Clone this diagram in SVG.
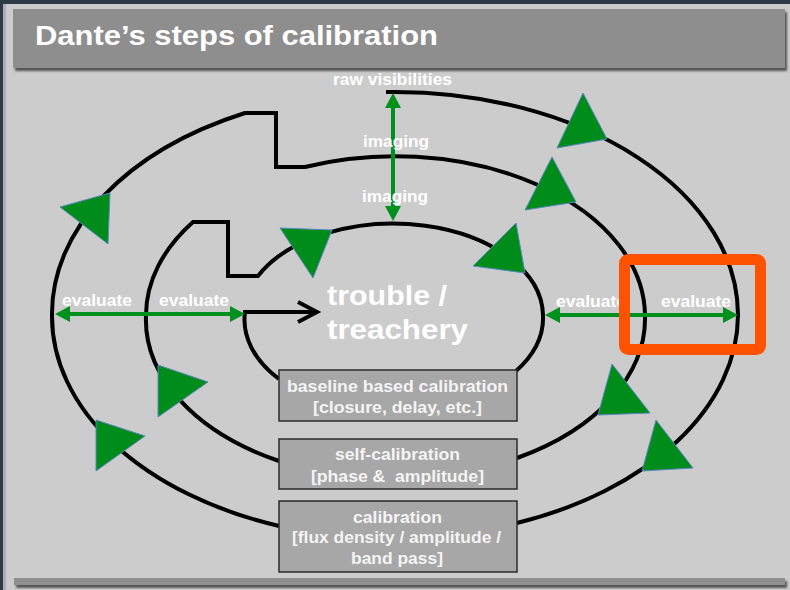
<svg xmlns="http://www.w3.org/2000/svg" width="790" height="590" viewBox="0 0 790 590">
<defs>
<style>
.curve{fill:none;stroke:#000;stroke-width:4;stroke-linejoin:miter}
.garrow{fill:none;stroke:#00901e;stroke-width:4}
.tri{fill:#008c1a;stroke:#5a86bf;stroke-width:1}
.lbl{font-family:"Liberation Sans",Arial,sans-serif;font-weight:bold;font-size:16px;fill:#fff;text-anchor:middle}
.box{fill:#a7a7a7;stroke:#2b2b2b;stroke-width:1.5}
.btxt{font-family:"Liberation Sans",Arial,sans-serif;font-weight:bold;font-size:16px;fill:#f4f4f4;text-anchor:middle}
.big{font-family:"Liberation Sans",Arial,sans-serif;font-weight:bold;font-size:27px;fill:#fff}
</style>
<marker id="gh" viewBox="0 0 15 16" refX="11" refY="8" markerWidth="15" markerHeight="16" markerUnits="userSpaceOnUse" orient="auto-start-reverse">
<path d="M0,0 L15,8 L0,16 z" fill="#00901e"/>
</marker>
<filter id="sh" x="-5%" y="-50%" width="110%" height="200%">
<feDropShadow dx="2" dy="3" stdDeviation="1.2" flood-color="#4a4a4a" flood-opacity="0.9"/>
</filter>
</defs>

<rect x="0" y="0" width="790" height="590" fill="#2e3a46"/>
<rect x="3" y="4" width="787" height="586" fill="#a9b1b9"/>
<rect x="6" y="4" width="784" height="586" fill="#cccccc"/>

<g id="title">
<rect x="13" y="9" width="772" height="59" fill="#8e8e8e" filter="url(#sh)"/>
<text class="big" x="35" y="45" textLength="403" lengthAdjust="spacingAndGlyphs">Dante’s steps of calibration</text>
</g>
<rect x="14" y="578" width="771" height="7" fill="#8f8f8f" filter="url(#sh)"/>

<g id="connectors">
<!-- outer ring -->
<path class="curve" d="M386,92 L395,92 A343,223 0 0 1 738,315 A343,223 0 0 1 517,523"/>
<path class="curve" d="M279,526 A343,223 0 0 1 52,315 A343,223 0 0 1 245,113 L276,113 L276,167 L305,167 A250,160 0 0 1 645,315 A250,160 0 0 1 517,458"/>
<!-- middle ring -->
<path class="curve" d="M279,461 A250,160 0 0 1 146,315 A250,160 0 0 1 193,222 L228,222 L228,276 L258,276 A150,93 0 0 1 543,315 A150,93 0 0 1 516,371"/>
<!-- inner ring + arrow to centre -->
<path class="curve" d="M279,379 A150,93 0 0 1 245,312 L316,312"/>
<polyline class="curve" points="298,302 317,312 298,322" stroke-width="3.5"/>

<!-- green measurement arrows -->
<line class="garrow" x1="393" y1="97" x2="393" y2="217" marker-start="url(#gh)" marker-end="url(#gh)"/>
<line class="garrow" x1="59" y1="314" x2="241" y2="314" marker-start="url(#gh)" marker-end="url(#gh)"/>
<line class="garrow" x1="549" y1="315" x2="734" y2="315" marker-start="url(#gh)" marker-end="url(#gh)"/>

<!-- direction triangles -->
<polygon class="tri" points="60,207 110,193 108,244"/>
<polygon class="tri" points="96,420 145,436 96,471"/>
<polygon class="tri" points="158,365 208,382 158,417"/>
<polygon class="tri" points="280,228 332,230 313,278"/>
<polygon class="tri" points="583,93 607,139 557,148"/>
<polygon class="tri" points="552,157 576,202 525,210"/>
<polygon class="tri" points="516,223 525,273 473,266"/>
<polygon class="tri" points="612,364 650,413 598,415"/>
<polygon class="tri" points="656,420 693,468 642,471"/>
</g>

<g id="labels">
<text class="lbl" x="392.5" y="85" textLength="119" lengthAdjust="spacingAndGlyphs">raw visibilities</text>
<text class="lbl" x="396" y="147" textLength="66" lengthAdjust="spacingAndGlyphs">imaging</text>
<text class="lbl" x="395" y="202" textLength="66" lengthAdjust="spacingAndGlyphs">imaging</text>
<text class="lbl" x="97" y="306" textLength="70" lengthAdjust="spacingAndGlyphs">evaluate</text>
<text class="lbl" x="194" y="306" textLength="70" lengthAdjust="spacingAndGlyphs">evaluate</text>
<text class="lbl" x="591" y="307" textLength="70" lengthAdjust="spacingAndGlyphs">evaluate</text>
<text class="lbl" x="696" y="307" textLength="70" lengthAdjust="spacingAndGlyphs">evaluate</text>
</g>

<g id="trouble">
<text class="big" x="327" y="305" textLength="120" lengthAdjust="spacingAndGlyphs">trouble /</text>
<text class="big" x="327" y="339" textLength="141" lengthAdjust="spacingAndGlyphs">treachery</text>
</g>

<g id="box-baseline">
<rect class="box" x="279" y="370" width="238" height="51"/>
<text class="btxt" x="397.5" y="392" textLength="221" lengthAdjust="spacingAndGlyphs">baseline based calibration</text>
<text class="btxt" x="397.5" y="413" textLength="169" lengthAdjust="spacingAndGlyphs">[closure, delay, etc.]</text>
</g>

<g id="box-selfcal">
<rect class="box" x="279" y="439" width="238" height="50"/>
<text class="btxt" x="397.5" y="460" textLength="125" lengthAdjust="spacingAndGlyphs">self-calibration</text>
<text class="btxt" x="397.5" y="482" textLength="173" lengthAdjust="spacingAndGlyphs" xml:space="preserve">[phase &amp;  amplitude]</text>
</g>

<g id="box-calibration">
<rect class="box" x="279" y="501" width="238" height="71"/>
<text class="btxt" x="397.5" y="523" textLength="89" lengthAdjust="spacingAndGlyphs">calibration</text>
<text class="btxt" x="396.5" y="543" textLength="209" lengthAdjust="spacingAndGlyphs">[flux density / amplitude /</text>
<text class="btxt" x="397" y="564" textLength="92" lengthAdjust="spacingAndGlyphs">band pass]</text>
</g>

<g id="highlight">
<rect x="624.5" y="259.5" width="136" height="90" rx="4" fill="none" stroke="#ff5200" stroke-width="11"/>
</g>
</svg>
